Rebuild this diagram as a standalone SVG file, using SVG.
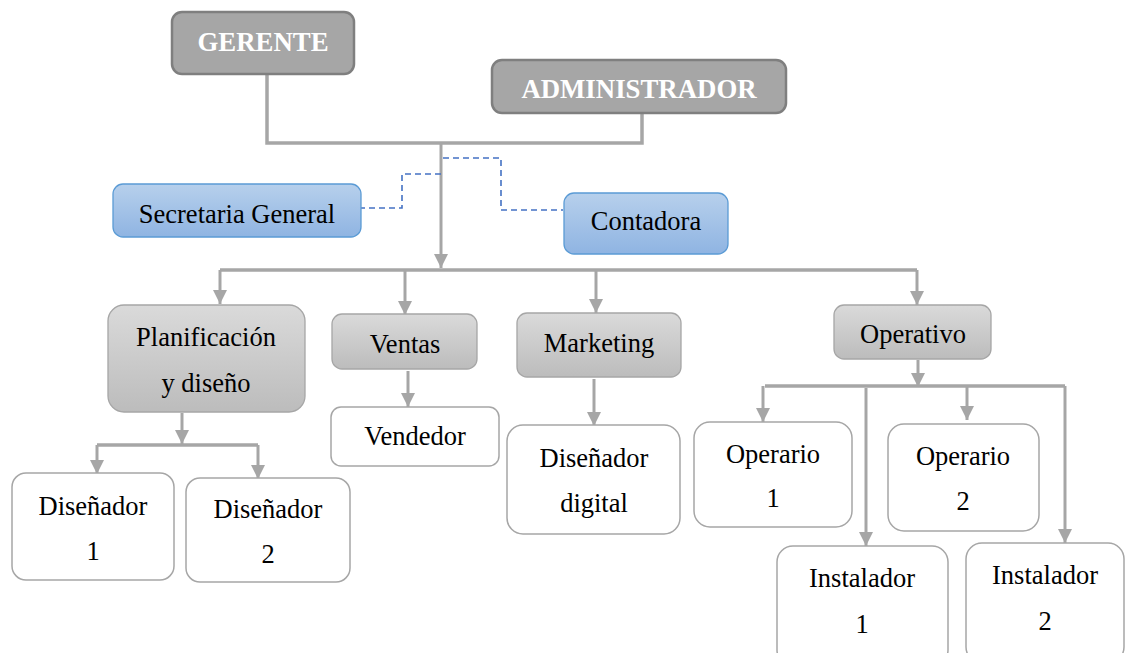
<svg xmlns="http://www.w3.org/2000/svg" width="1125" height="653" viewBox="0 0 1125 653" font-family="'Liberation Serif', 'Times New Roman', Times, 'DejaVu Serif', serif">
<defs>
<linearGradient id="gGray" x1="0" y1="0" x2="0" y2="1"><stop offset="0" stop-color="#dadada"/><stop offset="1" stop-color="#bcbcbc"/></linearGradient>
<linearGradient id="gBlue" x1="0" y1="0" x2="0" y2="1"><stop offset="0" stop-color="#b7d0ec"/><stop offset="1" stop-color="#8fb4e2"/></linearGradient>
<marker id="arr" markerUnits="userSpaceOnUse" markerWidth="16" markerHeight="16" viewBox="0 0 16 16" refX="14" refY="8" orient="auto"><path d="M0 1 L14 8 L0 15 Z" fill="#a6a6a6"/></marker>
<style>
.top rect{fill:#a6a6a6;stroke:#7f7f7f;stroke-width:2.5}
.top text{font-weight:bold;font-size:26.8px;fill:#ffffff;text-anchor:middle}
.blue rect{fill:url(#gBlue);stroke:#5b9bd5;stroke-width:1.3}
.gray rect{fill:url(#gGray);stroke:#a6a6a6;stroke-width:1.3}
.white rect{fill:#ffffff;stroke:#a6a6a6;stroke-width:1.5}
text{font-family:'Liberation Serif', 'Times New Roman', Times, 'DejaVu Serif', serif;font-size:26.5px;fill:#000000;text-anchor:middle}
.ln{fill:none;stroke:#a6a6a6;stroke-width:3.5}
.ar{fill:none;stroke:#a6a6a6;stroke-width:3;marker-end:url(#arr)}
.ds{fill:none;stroke:#4472c4;stroke-width:1.6;stroke-dasharray:6 4}
</style>
</defs>
<rect width="1125" height="653" fill="#ffffff"/>
<g id="connectors">
<path class="ln" d="M267 74 V143 H642 V113"/>
<path class="ar" d="M441 143 V268"/>
<path class="ln" d="M220 270 H917"/>
<path class="ar" d="M220 270 V304"/>
<path class="ar" d="M405 270 V315"/>
<path class="ar" d="M596 270 V313"/>
<path class="ar" d="M917 270 V305"/>
<path class="ar" d="M182 413 V444"/>
<path class="ln" d="M97 445 H258"/>
<path class="ar" d="M97 445 V474"/>
<path class="ar" d="M258 445 V479"/>
<path class="ar" d="M408 371 V407"/>
<path class="ar" d="M594 379 V426"/>
<path class="ar" d="M918 360 V387"/>
<path class="ln" d="M765 386 H1065"/>
<path class="ar" d="M763 386 V422"/>
<path class="ar" d="M866 388 V546"/>
<path class="ar" d="M967 386 V420"/>
<path class="ar" d="M1065 386 V543"/>
<path class="ds" d="M441 174 H402 V208 H361"/>
<path class="ds" d="M443 158 H501 V210 H563"/>
</g>
<g id="gerente" class="top"><rect x="172" y="12" width="182" height="62" rx="10"/><text x="263" y="51">GERENTE</text></g>
<g id="administrador" class="top"><rect x="492" y="60" width="294" height="53" rx="10"/><text x="639" y="98">ADMINISTRADOR</text></g>
<g id="secretaria" class="blue"><rect x="113" y="184" width="248" height="53" rx="10"/><text x="237" y="223">Secretaria General</text></g>
<g id="contadora" class="blue"><rect x="564" y="193" width="164" height="61" rx="10"/><text x="646" y="230">Contadora</text></g>
<g id="planificacion" class="gray"><rect x="108" y="305" width="197" height="107" rx="16"/><text x="206" y="346">Planificación</text><text x="206" y="392">y diseño</text></g>
<g id="ventas" class="gray"><rect x="332" y="314" width="145" height="55" rx="10"/><text x="405" y="353">Ventas</text></g>
<g id="marketing" class="gray"><rect x="517" y="313" width="164" height="64" rx="10"/><text x="599" y="352">Marketing</text></g>
<g id="operativo" class="gray"><rect x="834" y="305" width="157" height="54" rx="10"/><text x="913" y="343">Operativo</text></g>
<g id="disenador1" class="white"><rect x="12" y="473" width="162" height="107" rx="14"/><text x="93" y="515">Diseñador</text><text x="93" y="560">1</text></g>
<g id="disenador2" class="white"><rect x="186" y="478" width="164" height="104" rx="14"/><text x="268" y="518">Diseñador</text><text x="268" y="563">2</text></g>
<g id="vendedor" class="white"><rect x="331" y="407" width="168" height="59" rx="10"/><text x="415" y="445">Vendedor</text></g>
<g id="disenadordigital" class="white"><rect x="507" y="425" width="173" height="109" rx="16"/><text x="594" y="467">Diseñador</text><text x="594" y="512">digital</text></g>
<g id="operario1" class="white"><rect x="694" y="422" width="158" height="105" rx="16"/><text x="773" y="463">Operario</text><text x="773" y="507">1</text></g>
<g id="operario2" class="white"><rect x="888" y="424" width="151" height="107" rx="16"/><text x="963" y="465">Operario</text><text x="963" y="510">2</text></g>
<g id="instalador1" class="white"><rect x="777" y="546" width="171" height="120" rx="16"/><text x="862" y="587">Instalador</text><text x="862" y="633">1</text></g>
<g id="instalador2" class="white"><rect x="966" y="543" width="158" height="120" rx="16"/><text x="1045" y="584">Instalador</text><text x="1045" y="630">2</text></g>
</svg>
